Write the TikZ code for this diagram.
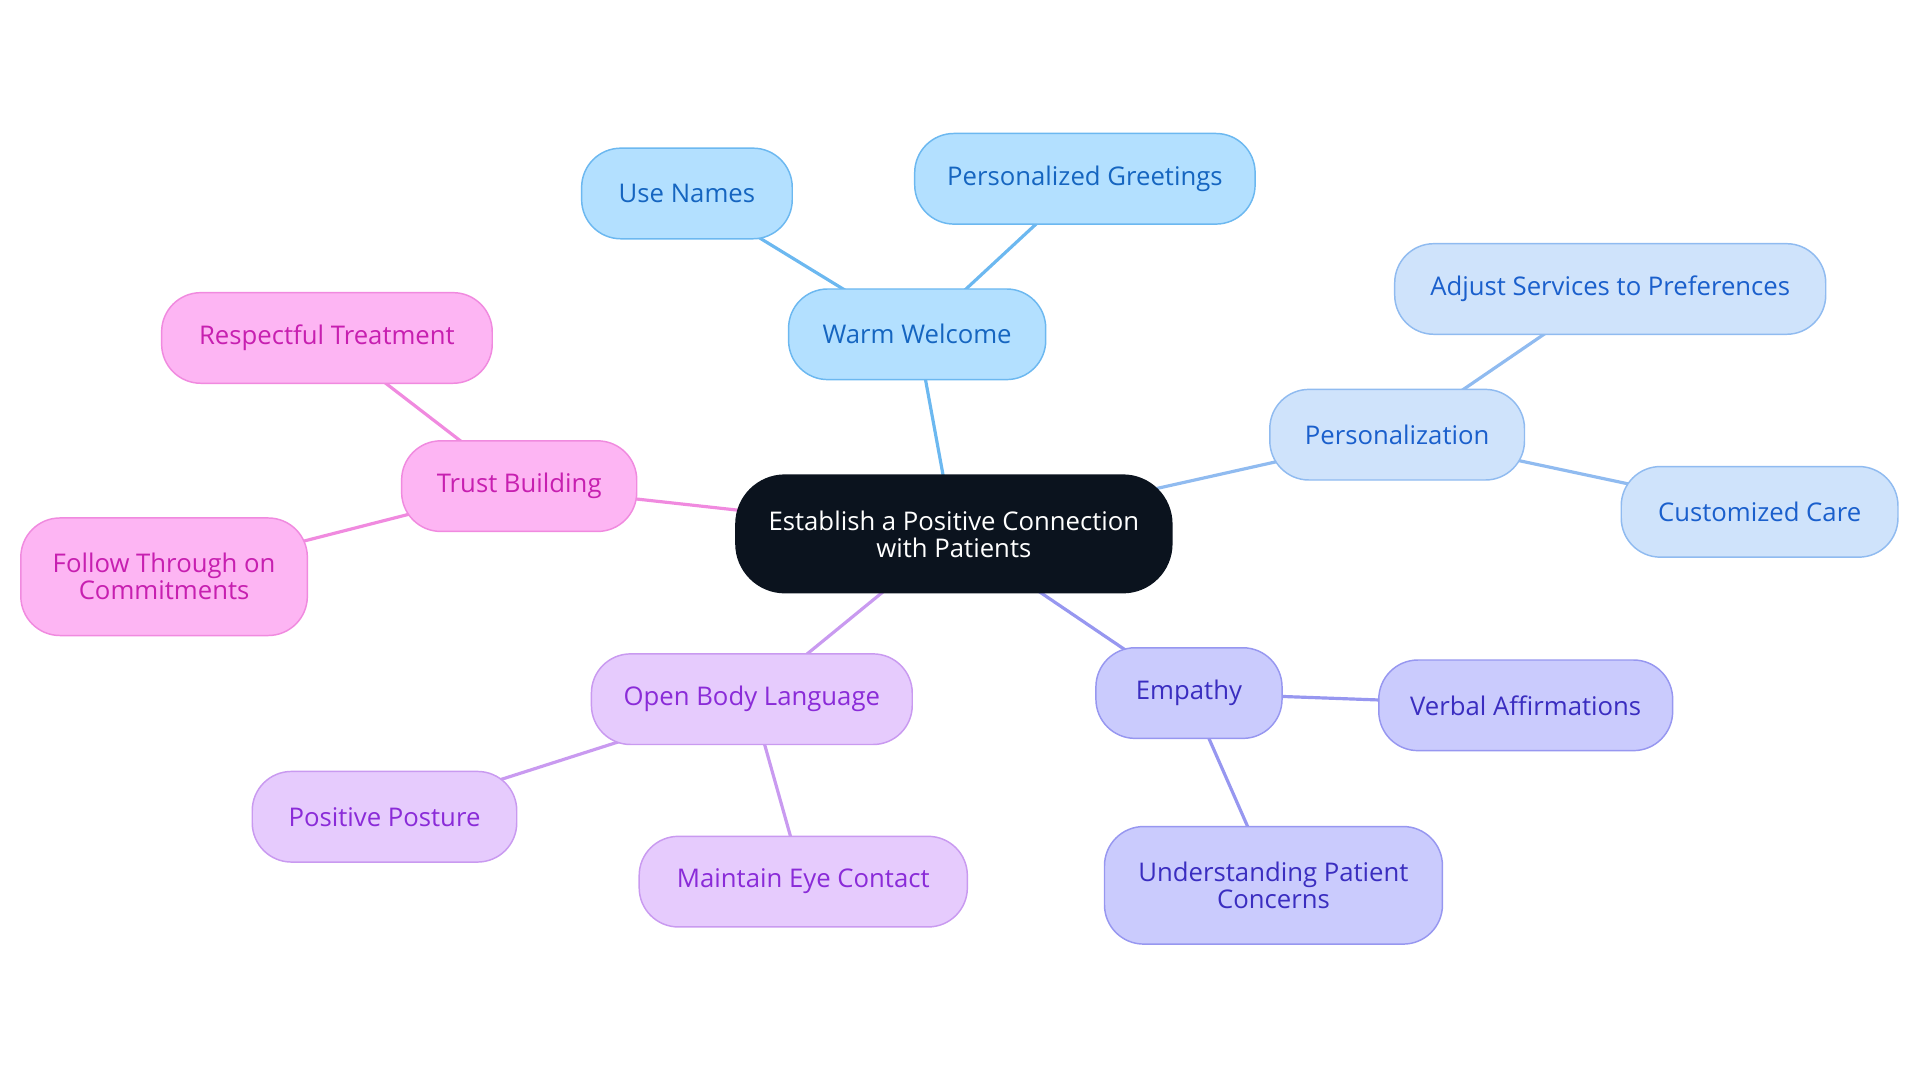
\documentclass[tikz,border=0pt]{standalone}
\usepackage{fontspec}
\setmainfont{Open Sans}
\usetikzlibrary{backgrounds}
\definecolor{cbl}{HTML}{B3E0FF}\definecolor{cblb}{HTML}{6CB8F0}\definecolor{cblt}{HTML}{1565C0}
\definecolor{cpe}{HTML}{CFE3FB}\definecolor{cpeb}{HTML}{90BBF0}\definecolor{cpet}{HTML}{1A5FCC}
\definecolor{cem}{HTML}{CACBFD}\definecolor{cemb}{HTML}{9797F0}\definecolor{cemt}{HTML}{3A2DC0}
\definecolor{cob}{HTML}{E6CBFD}\definecolor{cobb}{HTML}{C99AF0}\definecolor{cobt}{HTML}{8A2BD8}
\definecolor{ctr}{HTML}{FDB5F3}\definecolor{ctrb}{HTML}{F08ADF}\definecolor{ctrt}{HTML}{C71FB0}
\definecolor{cdark}{HTML}{0B131E}
\tikzset{
 box/.style={draw, line width=0.6pt, rounded corners=16pt, align=center, font=\fontsize{10.5}{11}\selectfont, inner sep=0pt},
 bl/.style={box, fill=cbl, draw=cblb, text=cblt},
 pe/.style={box, fill=cpe, draw=cpeb, text=cpet},
 em/.style={box, fill=cem, draw=cemb, text=cemt},
 ob/.style={box, fill=cob, draw=cobb, text=cobt},
 tr/.style={box, fill=ctr, draw=ctrb, text=ctrt},
 ln/.style={line width=1.3pt}
}
\begin{document}
\begin{tikzpicture}[x=0.5pt,y=-0.5pt]
\useasboundingbox (0,0) rectangle (1568,884);
\node[box, fill=cdark, draw=cdark, text=white, minimum width=178pt, minimum height=48pt, rounded corners=20pt] (c) at (779,436) {Establish a Positive Connection\\with Patients};
\node[bl, minimum width=105pt, minimum height=37pt] (ww) at (749,273) {Warm Welcome};
\node[bl, minimum width=86pt, minimum height=37pt] (un) at (561,158) {Use Names};
\node[bl, minimum width=139pt, minimum height=37pt] (pg) at (886,146) {Personalized Greetings};
\node[pe, minimum width=104pt, minimum height=37pt] (pz) at (1141,355) {Personalization};
\node[pe, minimum width=176pt, minimum height=37pt] (as) at (1315,236) {Adjust Services to Preferences};
\node[pe, minimum width=113pt, minimum height=37pt] (cc) at (1437,418) {Customized Care};
\node[em, minimum width=76pt, minimum height=37pt] (em) at (971,566) {Empathy};
\node[em, minimum width=120pt, minimum height=37pt] (va) at (1246,576) {Verbal Affirmations};
\node[em, minimum width=138pt, minimum height=48pt] (up) at (1040,723) {Understanding Patient\\Concerns};
\node[ob, minimum width=131pt, minimum height=37pt] (ob) at (614,571) {Open Body Language};
\node[ob, minimum width=108pt, minimum height=37pt] (pp) at (314,667) {Positive Posture};
\node[ob, minimum width=134pt, minimum height=37pt] (me) at (656,720) {Maintain Eye Contact};
\node[tr, minimum width=96pt, minimum height=37pt] (tb) at (424,397) {Trust Building};
\node[tr, minimum width=135pt, minimum height=37pt] (rt) at (267,276) {Respectful Treatment};
\node[tr, minimum width=117pt, minimum height=48pt] (ft) at (134,471) {Follow Through on\\Commitments};
\begin{scope}[on background layer]
\draw[ln, cblb] (c.center) -- (ww.center);
\draw[ln, cblb] (ww.center) -- (un.center);
\draw[ln, cblb] (ww.center) -- (pg.center);
\draw[ln, cpeb] (c.center) -- (pz.center);
\draw[ln, cpeb] (pz.center) -- (as.center);
\draw[ln, cpeb] (pz.center) -- (cc.center);
\draw[ln, cemb] (c.center) -- (em.center);
\draw[ln, cemb] (em.center) -- (va.center);
\draw[ln, cemb] (em.center) -- (up.center);
\draw[ln, cobb] (c.center) -- (ob.center);
\draw[ln, cobb] (ob.center) -- (pp.center);
\draw[ln, cobb] (ob.center) -- (me.center);
\draw[ln, ctrb] (c.center) -- (tb.center);
\draw[ln, ctrb] (tb.center) -- (rt.center);
\draw[ln, ctrb] (tb.center) -- (ft.center);
\end{scope}
\end{tikzpicture}
\end{document}
